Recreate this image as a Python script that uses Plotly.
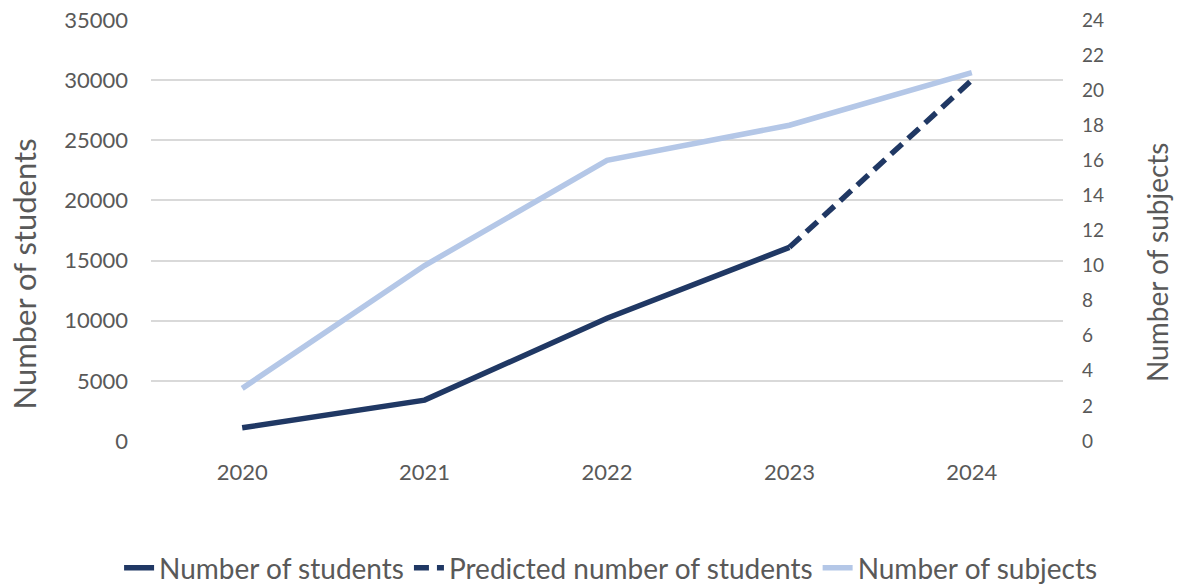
import plotly.graph_objects as go

years = ["2020", "2021", "2022", "2023", "2024"]
students = [1100, 3400, 10200, 16100, None]
predicted = [None, None, None, 16100, 30000]
subjects = [3, 10, 16, 18, 21]

left_ticks = [0, 5000, 10000, 15000, 20000, 25000, 30000, 35000]
left_labels = [str(v) for v in left_ticks]
right_ticks = list(range(0, 25, 2))

DARK = "#203864"
LIGHT = "#b4c7e7"
TXT = "#595959"
FONT = "Lato"

fig = go.Figure()
fig.add_trace(go.Scatter(x=years, y=students, mode="lines", name="Number of students",
                         line=dict(color=DARK, width=5.5), yaxis="y"))
fig.add_trace(go.Scatter(x=years, y=predicted, mode="lines", name="Predicted number of students",
                         line=dict(color=DARK, width=5.5, dash="15px,8px"), yaxis="y"))
fig.add_trace(go.Scatter(x=years, y=subjects, mode="lines", name="Number of subjects",
                         line=dict(color=LIGHT, width=5.5), yaxis="y2"))

fig.update_layout(
    width=1188, height=584,
    margin=dict(l=151, r=125, t=20, b=143, autoexpand=False),
    paper_bgcolor="white", plot_bgcolor="white",
    font=dict(family=FONT, color=TXT, size=18),
    xaxis=dict(type="category", range=[-0.5, 4.5], showgrid=False, showline=False,
               ticks="", tickfont=dict(size=22), ticklabelstandoff=16),
    yaxis=dict(range=[0, 35000], tickvals=left_ticks, ticktext=left_labels,
               showgrid=True, gridcolor="#d9d9d9",
               gridwidth=2, zeroline=False, showline=False, ticks="",
               tickfont=dict(size=22), ticklabelstandoff=22),
    yaxis2=dict(range=[0, 24], tickvals=right_ticks, overlaying="y", side="right",
                showgrid=False, zeroline=False, showline=False, ticks="",
                tickfont=dict(size=19), ticklabelstandoff=18),
    legend=dict(orientation="h", xref="paper", yref="paper",
                x=-0.035, xanchor="left", y=-0.302, yanchor="middle",
                font=dict(size=28, color=TXT), itemwidth=30, tracegroupgap=0),
    showlegend=True,
    annotations=[
        dict(text="Number of students", textangle=-90, xref="paper", yref="paper",
             x=-0.1398, y=0.3967, xanchor="center", yanchor="middle", showarrow=False,
             font=dict(size=31, color=TXT)),
        dict(text="Number of subjects", textangle=-90, xref="paper", yref="paper",
             x=1.1031, y=0.4228, xanchor="center", yanchor="middle", showarrow=False,
             font=dict(size=28, color=TXT)),
    ],
)

fig.write_html("out.html")
